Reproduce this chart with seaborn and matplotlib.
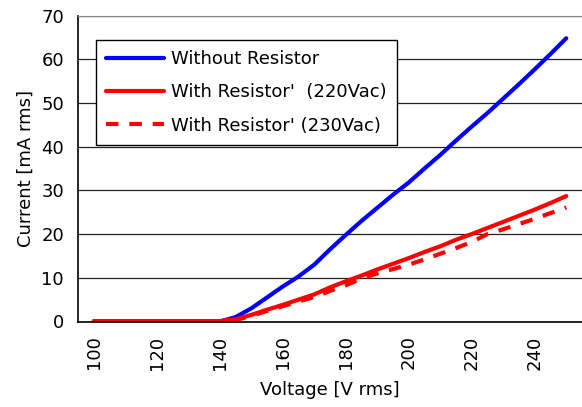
import numpy as np
import pandas as pd
import matplotlib
matplotlib.use("Agg")
import matplotlib.pyplot as plt
import seaborn as sns

# voltage steps (V rms)
voltage = [100, 105, 110, 115, 120, 125, 130, 135, 140, 145, 150, 155, 160, 165,
           170, 175, 180, 185, 190, 195, 200, 205, 210, 215, 220, 225, 230, 235,
           240, 245, 250]

# current readings (mA rms)
without_res = [0, 0, 0, 0, 0, 0, 0, 0, 0, 1.0, 3.0, 5.5, 8.0, 10.3,
               13.0, 16.5, 19.8, 23.0, 26.0, 29.0, 31.8, 35.0, 38.1, 41.4, 44.6, 47.7, 51.0, 54.3,
               57.7, 61.2, 64.8]
with_res_220 = [0.1, 0.1, 0.1, 0.1, 0.1, 0.1, 0.1, 0.1, 0.1, 0.5, 1.5, 2.7, 3.8, 5.0,
                6.2, 7.8, 9.2, 10.5, 11.9, 13.2, 14.5, 15.9, 17.2, 18.7, 20.0, 21.4, 22.8, 24.2,
                25.6, 27.1, 28.7]
with_res_230 = [0, 0, 0, 0, 0, 0, 0, 0, 0, 0.3, 1.3, 2.4, 3.5, 4.6,
                5.6, 7.0, 8.3, 9.8, 11.0, 12.0, 13.0, 14.2, 15.5, 16.8, 18.2, 20.0, 21.1, 22.3,
                23.5, 24.8, 26.1]

labels = ["Without Resistor", "With Resistor'  (220Vac)", "With Resistor' (230Vac)"]

df = pd.DataFrame({
    "Voltage": voltage * 3,
    "Current": without_res + with_res_220 + with_res_230,
    "Series": [labels[0]] * len(voltage) + [labels[1]] * len(voltage) + [labels[2]] * len(voltage),
})

sns.set_style("white")
plt.rcParams['font.family'] = ['DejaVu Sans']
plt.rcParams['text.color'] = 'black'
plt.rcParams['axes.labelcolor'] = 'black'
plt.rcParams['xtick.color'] = 'black'
plt.rcParams['ytick.color'] = 'black'

fig = plt.figure(figsize=(5.82, 4.07), dpi=100)
ax = fig.add_axes([78 / 582, 85.5 / 407, 504 / 582, 306 / 407])

palette = {labels[0]: "#0000ff", labels[1]: "#ff0000", labels[2]: "#ff0000"}
dashes = {labels[0]: "", labels[1]: "", labels[2]: (3, 2.6)}
sns.lineplot(data=df, x="Voltage", y="Current", hue="Series", style="Series",
             palette=palette, dashes=dashes, linewidth=3, ax=ax, legend=True)

ax.set_xlim(95, 255)
ax.set_ylim(0, 70)
ax.set_yticks(range(0, 71, 10))
ax.set_xticks(range(100, 241, 20))
ax.set_xticks(range(105, 250, 10), minor=True)
ax.tick_params(axis="x", which="major", length=0, labelrotation=90, labelsize=13, pad=10)
ax.tick_params(axis="x", which="minor", direction="in", length=6, width=1, color="black")
ax.tick_params(axis="y", length=0, labelsize=13, pad=10)

ax.grid(axis="y", color="#222222", linewidth=0.9)
ax.set_axisbelow(True)
for s in ["left", "bottom"]:
    ax.spines[s].set_color("black")
    ax.spines[s].set_linewidth(1.2)
ax.spines["top"].set_color("#888888")
ax.spines["right"].set_visible(False)

ax.set_xlabel("Voltage [V rms]", fontsize=13, labelpad=8)
ax.set_ylabel("Current [mA rms]", fontsize=13, labelpad=5)

leg = ax.legend(loc="upper left", bbox_to_anchor=(0.036, 0.92), borderaxespad=0,
                fontsize=13, frameon=True, fancybox=False, framealpha=1,
                handlelength=3.2, labelspacing=0.85, borderpad=0.55, handletextpad=0.4)
leg.get_frame().set_edgecolor("black")
leg.get_frame().set_linewidth(1.0)
leg.set_title(None)

fig.savefig("out.png", dpi=100)
